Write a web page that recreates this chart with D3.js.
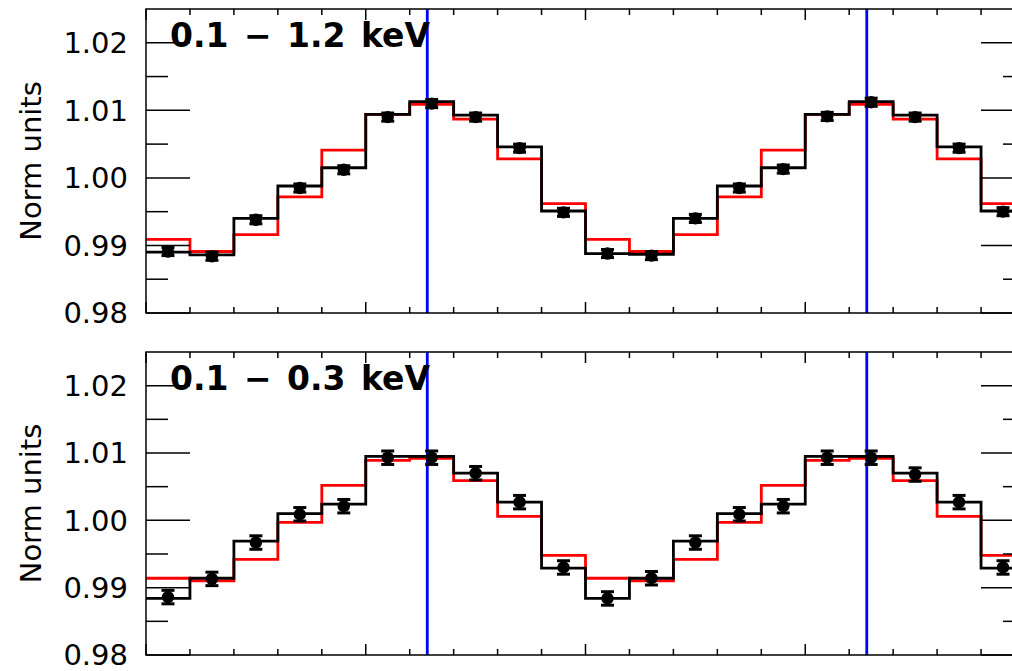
<!DOCTYPE html>
<html>
<head>
<meta charset="utf-8">
<script src="https://cdn.jsdelivr.net/npm/d3@7"></script>
<style>
  body { margin: 0; background: #fff; }
  svg { display: block; font-family: "DejaVu Sans", sans-serif; }
</style>
</head>
<body>
<div class="chart"></div>
<script>
var svgWidth = 1012;
var svgHeight = 671;

// phase bins (0..2, 10 bins per cycle)
var binEdges = [0, 0.1, 0.2, 0.3, 0.4, 0.5, 0.6, 0.7, 0.8, 0.9, 1.0,
  1.1, 1.2, 1.3, 1.4, 1.5, 1.6, 1.7, 1.8, 1.9, 2.0];
var markerPhases = [0.64, 1.64];

// panel 1: 0.1 - 1.2 keV
var data1 = [0.9891, 0.9884, 0.9938, 0.9985, 1.0012, 1.0090, 1.0110, 1.0090, 1.0044, 0.9949,
  0.9888, 0.9885, 0.9940, 0.9985, 1.0013, 1.0091, 1.0112, 1.0090, 1.0044, 0.9950];
var err1 = 0.0006;
var model1 = [0.9890, 0.9886, 0.9940, 0.9988, 1.0015, 1.0094, 1.0113, 1.0093, 1.0046, 0.9951,
  0.9888, 0.9887, 0.9940, 0.9988, 1.0015, 1.0094, 1.0113, 1.0093, 1.0046, 0.9951];
var red1 = [0.9909, 0.9891, 0.9916, 0.9972, 1.0041, 1.0094, 1.0109, 1.0087, 1.0028, 0.9962,
  0.9909, 0.9891, 0.9916, 0.9972, 1.0041, 1.0094, 1.0109, 1.0087, 1.0028, 0.9962];

// panel 2: 0.1 - 0.3 keV
var data2 = [0.9886, 0.9913, 0.9967, 1.0009, 1.0021, 1.0093, 1.0093, 1.0070, 1.0027, 0.9930,
  0.9884, 0.9914, 0.9967, 1.0009, 1.0021, 1.0093, 1.0093, 1.0068, 1.0027, 0.9930];
var err2 = 0.0010;
var model2 = [0.9884, 0.9914, 0.9969, 1.0010, 1.0024, 1.0095, 1.0095, 1.0070, 1.0027, 0.9929,
  0.9884, 0.9914, 0.9969, 1.0010, 1.0024, 1.0095, 1.0095, 1.0070, 1.0027, 0.9929];
var red2 = [0.9914, 0.9910, 0.9942, 0.9997, 1.0052, 1.0089, 1.0092, 1.0059, 1.0006, 0.9948,
  0.9914, 0.9910, 0.9942, 0.9997, 1.0052, 1.0089, 1.0092, 1.0059, 1.0006, 0.9948];

var yTicks = [0.98, 0.99, 1.00, 1.01, 1.02];
var yMinor = [0.985, 0.995, 1.005, 1.015];

var panels = [
  { title: "0.1 \u2212 1.2 keV", data: data1, err: err1, model: model1, red: red1, top: 9, bottom: 313 },
  { title: "0.1 \u2212 0.3 keV", data: data2, err: err2, model: model2, red: red2, top: 352, bottom: 655 }
];

var svg = d3.select(".chart")
  .append("svg")
  .attr("width", svgWidth)
  .attr("height", svgHeight);

var xLeft = 146, xRight = 1025;
var xScale = d3.scaleLinear().domain([0, 2]).range([xLeft, xRight]);

var xMajor = d3.range(0, 2.001, 0.5);
var xMinorTicks = d3.range(0, 2.001, 0.1).filter(d => Math.abs(d * 2 - Math.round(d * 2)) > 1e-6);

panels.forEach(function(p) {
  var yScale = d3.scaleLinear().domain([0.98, 1.025]).range([p.bottom, p.top]);
  var g = svg.append("g");

  // step line helper: bin edges with the last value repeated
  function stepLine(vals) {
    var pts = binEdges.map((e, i) => [e, vals[Math.min(i, vals.length - 1)]]);
    return d3.line()
      .x(d => xScale(d[0]))
      .y(d => yScale(d[1]))
      .curve(d3.curveStepAfter)(pts);
  }

  g.append("path")
    .attr("d", stepLine(p.red))
    .attr("fill", "none")
    .attr("stroke", "#ff0000")
    .attr("stroke-width", 2.8);

  g.append("path")
    .attr("d", stepLine(p.model))
    .attr("fill", "none")
    .attr("stroke", "#000")
    .attr("stroke-width", 2.8);

  // blue phase markers
  g.selectAll(".vline")
    .data(markerPhases)
    .enter()
    .append("line")
    .attr("x1", d => xScale(d)).attr("x2", d => xScale(d))
    .attr("y1", p.top).attr("y2", p.bottom)
    .attr("stroke", "#0000ff")
    .attr("stroke-width", 2.8);

  // data points with error bars
  var pts = g.selectAll(".pt")
    .data(p.data)
    .enter()
    .append("g");
  var cx = (d, i) => xScale((binEdges[i] + binEdges[i + 1]) / 2);

  pts.append("line")
    .attr("x1", cx).attr("x2", cx)
    .attr("y1", d => yScale(d - p.err))
    .attr("y2", d => yScale(d + p.err))
    .attr("stroke", "#000").attr("stroke-width", 3);
  [-1, 1].forEach(function(s) {
    pts.append("line")
      .attr("x1", (d, i) => cx(d, i) - 6.5).attr("x2", (d, i) => cx(d, i) + 6.5)
      .attr("y1", d => yScale(d + s * p.err))
      .attr("y2", d => yScale(d + s * p.err))
      .attr("stroke", "#000").attr("stroke-width", 3);
  });
  pts.append("circle")
    .attr("cx", cx)
    .attr("cy", d => yScale(d))
    .attr("r", 6.2)
    .attr("fill", "#000");

  // y ticks, both sides, inward
  var yt = yTicks.map(v => ({ v: v, len: 44 })).concat(yMinor.map(v => ({ v: v, len: 22 })));
  g.selectAll(".ytl")
    .data(yt).enter().append("line")
    .attr("x1", xLeft).attr("x2", d => xLeft + d.len)
    .attr("y1", d => yScale(d.v)).attr("y2", d => yScale(d.v))
    .attr("stroke", "#000").attr("stroke-width", 1.5);
  g.selectAll(".ytr")
    .data(yt).enter().append("line")
    .attr("x1", xRight).attr("x2", d => xRight - d.len)
    .attr("y1", d => yScale(d.v)).attr("y2", d => yScale(d.v))
    .attr("stroke", "#000").attr("stroke-width", 1.5);

  // x ticks top and bottom, inward
  var xt = xMajor.map(v => ({ v: v, len: 11 })).concat(xMinorTicks.map(v => ({ v: v, len: 6 })));
  g.selectAll(".xtb")
    .data(xt).enter().append("line")
    .attr("x1", d => xScale(d.v)).attr("x2", d => xScale(d.v))
    .attr("y1", p.bottom).attr("y2", d => p.bottom - d.len)
    .attr("stroke", "#000").attr("stroke-width", 1.5);
  g.selectAll(".xtt")
    .data(xt).enter().append("line")
    .attr("x1", d => xScale(d.v)).attr("x2", d => xScale(d.v))
    .attr("y1", p.top).attr("y2", d => p.top + d.len)
    .attr("stroke", "#000").attr("stroke-width", 1.5);

  // frame
  g.append("rect")
    .attr("x", xLeft).attr("y", p.top)
    .attr("width", xRight - xLeft).attr("height", p.bottom - p.top)
    .attr("fill", "none")
    .attr("stroke", "#000")
    .attr("stroke-width", 1.5);

  // tick labels
  g.selectAll(".ylab")
    .data(yTicks).enter().append("text")
    .attr("x", 128)
    .attr("y", d => yScale(d))
    .attr("dy", "0.36em")
    .attr("text-anchor", "end")
    .style("font-size", "29px")
    .attr("fill", "#000")
    .text(d => d3.format(".2f")(d));

  g.append("text")
    .attr("transform", `translate(41, ${(p.top + p.bottom) / 2}) rotate(-90)`)
    .attr("text-anchor", "middle")
    .style("font-size", "29px")
    .attr("fill", "#000")
    .text("Norm units");

  g.append("text")
    .attr("x", 170)
    .attr("y", p.top + 38)
    .style("font-size", "33px")
    .style("font-weight", "bold")
    .attr("word-spacing", "4px")
    .attr("fill", "#000")
    .text(p.title);
});
</script>
</body>
</html>
